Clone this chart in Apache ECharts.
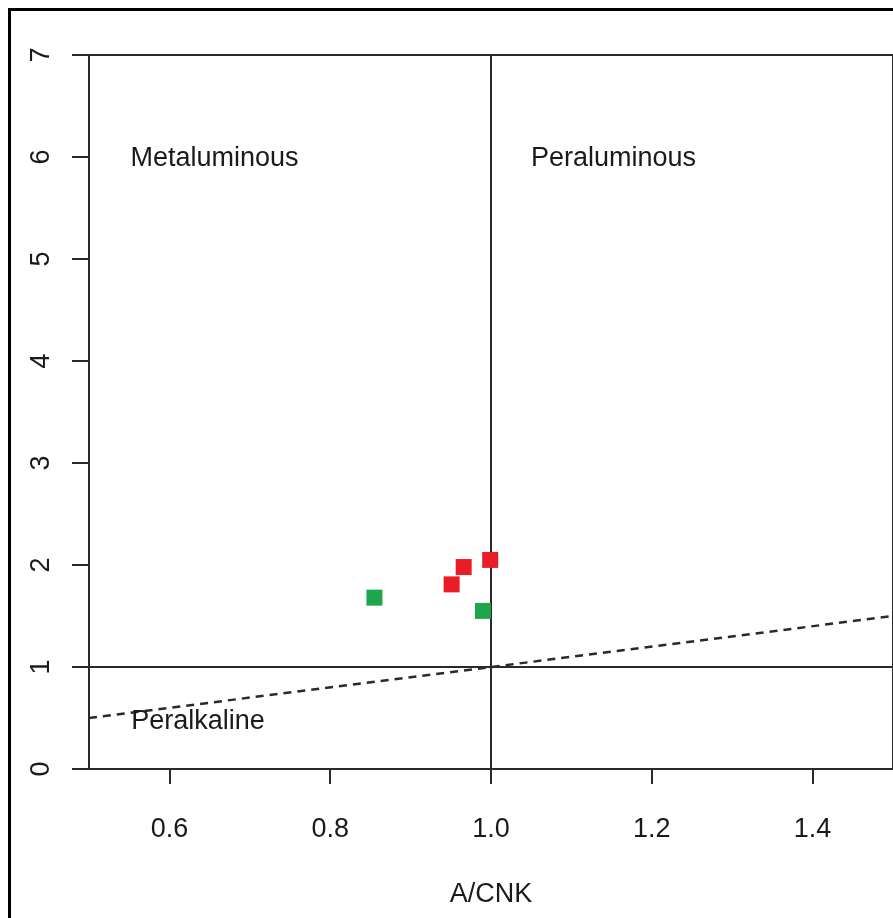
<!DOCTYPE html>
<html>
<head>
<meta charset="utf-8">
<script src="https://cdn.jsdelivr.net/npm/echarts@6/dist/echarts.min.js"></script>
<style>
html,body{margin:0;padding:0;background:#fff;}
#c{width:893px;height:918px;}
</style>
</head>
<body>
<div id="c"></div>
<script>
// Data
const redX = [0.951, 0.966, 0.999];
const redY = [1.81, 1.98, 2.05];
const greenX = [0.855, 0.990];
const greenY = [1.68, 1.55];
const xTicks = [0.6, 0.8, 1.0, 1.2, 1.4];
const yTicks = [0, 1, 2, 3, 4, 5, 6, 7];
const vLine = [[1.0, 0], [1.0, 7]];
const hLine = [[0.5, 1.0], [1.5, 1.0]];
const dashLine = [[0.5, 0.5], [1.5, 1.5]];
const regionLabels = [
  { name: 'Metaluminous', x: 0.551, y: 5.98 },
  { name: 'Peraluminous', x: 1.049, y: 5.98 },
  { name: 'Peralkaline', x: 0.552, y: 0.47 }
];
const xName = 'A/CNK';

const FONT = '"Liberation Sans", Arial, Helvetica, sans-serif';
const INK = '#2a2a2a';
const TXT = '#1a1a1a';

const chart = echarts.init(document.getElementById('c'), null, { renderer: 'canvas' });
const zip = (xs, ys) => xs.map((v, i) => [v, ys[i]]);

chart.setOption({
  backgroundColor: '#fff',
  animation: false,
  graphic: [{
    type: 'rect',
    shape: { x: 9.5, y: 9.5, width: 900, height: 930 },
    style: { fill: 'none', stroke: '#000', lineWidth: 3 },
    silent: true, z: 100
  }],
  grid: {
    left: 89, top: 55, width: 810, height: 714,
    show: true, borderColor: INK, borderWidth: 2, backgroundColor: 'transparent'
  },
  xAxis: {
    type: 'value', min: 0.5, max: 1.5,
    name: xName, nameLocation: 'middle', nameGap: 112,
    nameTextStyle: { fontFamily: FONT, fontSize: 27, color: TXT, verticalAlign: 'top' },
    axisLine: { show: false },
    splitLine: { show: false },
    axisTick: { show: true, inside: false, length: 15, customValues: xTicks, lineStyle: { color: INK, width: 2 } },
    axisLabel: {
      show: true, customValues: xTicks, margin: 47,
      fontFamily: FONT, fontSize: 27, color: TXT,
      formatter: v => Number(v).toFixed(1)
    }
  },
  yAxis: {
    type: 'value', min: 0, max: 7, interval: 1,
    axisLine: { show: false },
    splitLine: { show: false },
    axisTick: { show: true, length: 17, customValues: yTicks, lineStyle: { color: INK, width: 2 } },
    axisLabel: {
      show: true, customValues: yTicks, rotate: 90, margin: 34,
      fontFamily: FONT, fontSize: 27, color: TXT
    }
  },
  series: [
    {
      type: 'line', data: vLine, showSymbol: false, symbol: 'none', silent: true,
      lineStyle: { color: INK, width: 2 }, z: 1
    },
    {
      type: 'line', data: hLine, showSymbol: false, symbol: 'none', silent: true,
      lineStyle: { color: INK, width: 2 }, z: 1
    },
    {
      type: 'line', data: dashLine, showSymbol: false, symbol: 'none', silent: true,
      lineStyle: { color: INK, width: 2.5, type: [8, 6] }, z: 1
    },
    {
      type: 'scatter', data: regionLabels.map(d => ({ name: d.name, value: [d.x, d.y] })),
      symbolSize: 1, itemStyle: { color: 'rgba(0,0,0,0)', opacity: 1 }, silent: true, z: 3,
      label: {
        show: true, position: 'right', distance: 0, formatter: p => p.name,
        fontFamily: FONT, fontSize: 27, color: TXT, opacity: 1
      }
    },
    {
      type: 'scatter', data: zip(redX, redY), symbol: 'rect', symbolSize: 16,
      itemStyle: { color: '#E81D25', opacity: 1 }, z: 5
    },
    {
      type: 'scatter', data: zip(greenX, greenY), symbol: 'rect', symbolSize: 16,
      itemStyle: { color: '#1FA54A', opacity: 1 }, z: 5
    }
  ]
});
</script>
</body>
</html>
